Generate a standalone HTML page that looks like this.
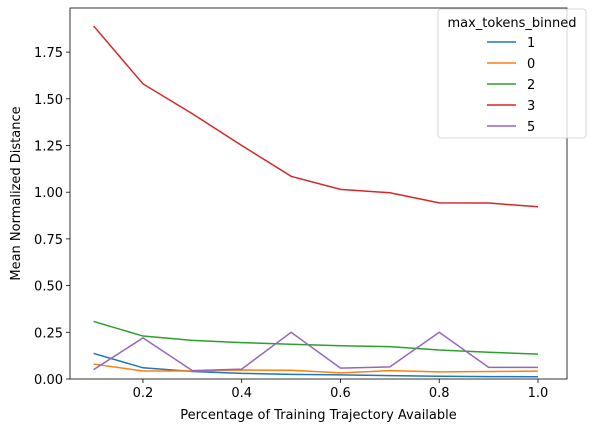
<!DOCTYPE html>
<html><head><meta charset="utf-8"><style>
body{margin:0;background:#fff;}
svg text{font-family:"DejaVu Sans","Liberation Sans",sans-serif;fill:#000;}
</style></head><body>
<svg id="chart" width="595" height="432" xmlns="http://www.w3.org/2000/svg"></svg>
<script>
const xValues=[0.1,0.2,0.3,0.4,0.5,0.6,0.7,0.8,0.9,1.0];
const seriesNames=["1","0","2","3","5"];
const seriesColors=["#1f77b4","#ff7f0e","#2ca02c","#d62728","#9467bd"];
const s1=[0.137,0.06,0.04,0.03,0.025,0.022,0.018,0.015,0.013,0.012];
const s0=[0.08,0.043,0.043,0.048,0.047,0.033,0.045,0.038,0.04,0.042];
const s2=[0.308,0.23,0.207,0.195,0.186,0.178,0.173,0.155,0.143,0.133];
const s3=[1.89,1.58,1.42,1.25,1.085,1.015,0.997,0.943,0.942,0.922];
const s5=[0.05,0.22,0.045,0.053,0.25,0.058,0.065,0.25,0.062,0.062];
const xTicks=[0.2,0.4,0.6,0.8,1.0];
const yTicks=[0,0.25,0.5,0.75,1.0,1.25,1.5,1.75];
const svg=document.getElementById('chart');
const NS="http://www.w3.org/2000/svg";
const L=70,R=567,T=8,B=379;
const xs=v=>93.6+(v-0.1)/0.2*98.75;
const ys=v=>B-v/0.25*46.7;
function mk(tag,attrs,parent){const e=document.createElementNS(NS,tag);for(const k in attrs)e.setAttribute(k,attrs[k]);(parent||svg).appendChild(e);return e;}
xTicks.forEach(t=>{
  const g=mk('g',{});
  
  
  mk('line',{x1:xs(t),x2:xs(t),y1:B,y2:B+4,stroke:'#000','stroke-width':0.8},g);
  const tx=mk('text',{x:xs(t),y:B+18,'text-anchor':'middle','font-size':13},g);tx.textContent=t.toFixed(1);
});
yTicks.forEach(t=>{
  const g=mk('g',{});
  
  
  mk('line',{x1:L-4,x2:L,y1:ys(t),y2:ys(t),stroke:'#000','stroke-width':0.8},g);
  const tx=mk('text',{x:L-7,y:ys(t)+5,'text-anchor':'end','font-size':13},g);tx.textContent=t.toFixed(2);
});
const all=[s1,s0,s2,s3,s5];
all.forEach((s,i)=>{
  const p=mk('polyline',{points:s.map((v,j)=>xs(xValues[j])+','+ys(v)).join(' '),fill:'none',stroke:seriesColors[i],'stroke-width':1.5});
  
  
});
const frame=mk('rect',{x:L,y:T,width:R-L,height:B-T,fill:'none',stroke:'#000','stroke-width':0.8});


const xl=mk('text',{x:(L+R)/2,y:419,'text-anchor':'middle','font-size':13});xl.textContent='Percentage of Training Trajectory Available';


const yl=mk('text',{x:0,y:0,'text-anchor':'middle','font-size':13,transform:'translate(20,'+((T+B)/2)+') rotate(-90)'});yl.textContent='Mean Normalized Distance';


const lg=mk('g',{});


mk('rect',{x:438,y:9,width:148,height:129,rx:3,fill:'rgba(255,255,255,0.8)',stroke:'#ccc','stroke-width':0.8},lg);
const lt=mk('text',{x:512,y:27,'text-anchor':'middle','font-size':13},lg);lt.textContent='max_tokens_binned';
seriesNames.forEach((n,i)=>{
  const e=mk('g',{},lg);
  
  
  const y=42+i*21;
  mk('line',{x1:487,x2:516,y1:y,y2:y,stroke:seriesColors[i],'stroke-width':1.5},e);
  const t=mk('text',{x:527,y:y+5,'font-size':13},e);t.textContent=n;
});
</script>
</body></html>
